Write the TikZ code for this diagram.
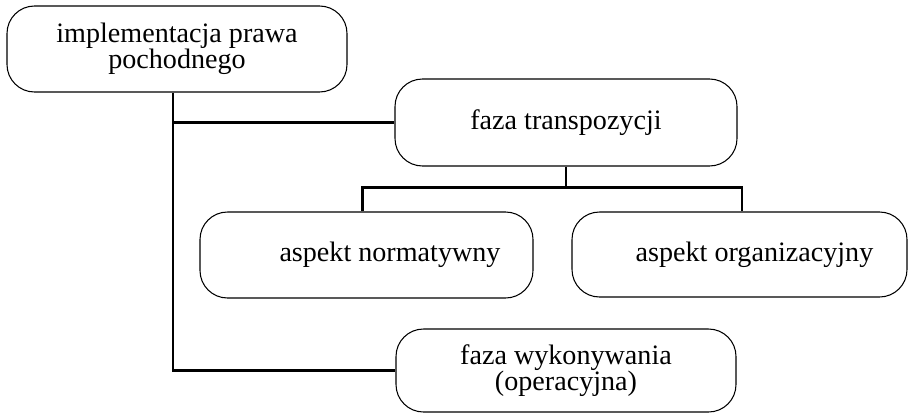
\documentclass[tikz,border=0pt]{standalone}
\usepackage{fontspec}
\setmainfont{Liberation Serif}
\usetikzlibrary{positioning}

\tikzset{
  blok/.style={draw, rectangle, rounded corners=0.55cm, line width=0.6pt, align=center, inner sep=0pt, font=\fontsize{16pt}{15pt}\selectfont},
  linia/.style={line width=1.2pt}
}

\begin{document}
\begin{tikzpicture}
      \useasboundingbox (0,0) rectangle (18.16,-8.28);
      \node[blok, minimum width=6.8cm, minimum height=1.72cm] (impl) at (3.54,-0.98) {implementacja prawa\\pochodnego};
      \node[blok, minimum width=6.84cm, minimum height=1.74cm] (transp) at (11.32,-2.45) {faza transpozycji};
      \node[blok, minimum width=6.66cm, minimum height=1.72cm] (norm) at (7.33,-5.1) {\hspace*{0.94cm}aspekt normatywny};
      \node[blok, minimum width=6.7cm, minimum height=1.7cm] (org) at (14.79,-5.09) {\hspace*{0.6cm}aspekt organizacyjny};
      \node[blok, minimum width=6.8cm, minimum height=1.66cm] (wyk) at (11.32,-7.41) {faza wykonywania\\(operacyjna)};

      %pien
      \coordinate (pien) at ([xshift=-0.08cm]impl.south);
      \draw[linia] (pien) |- (wyk.west);
      \draw[linia] (pien |- transp.west) -- (transp.west);

      %rozgalezienie
      \draw[linia] (transp.south) -- ++(0,-0.42) coordinate (rozw);
      \draw[linia] ([xshift=-0.08cm]norm.north) |- (rozw) -| ([xshift=0.05cm]org.north);
\end{tikzpicture}
\end{document}
